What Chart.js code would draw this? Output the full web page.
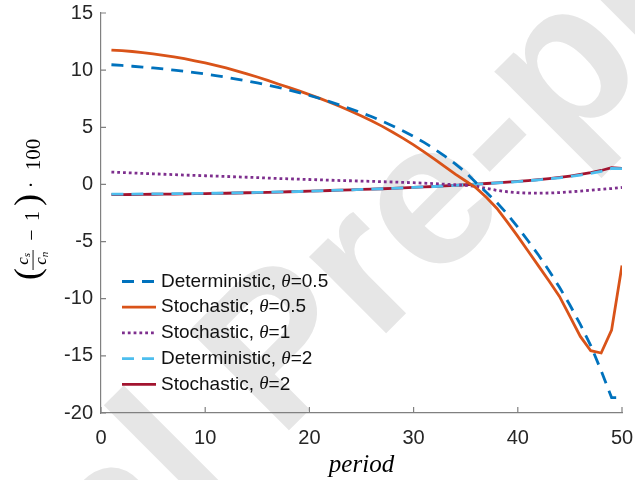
<!DOCTYPE html>
<html>
<head>
<meta charset="utf-8">
<script src="https://cdn.jsdelivr.net/npm/chart.js@4.4.1/dist/chart.umd.min.js"></script>
<style>
  html, body { margin: 0; padding: 0; background: #fff; }
  #wrap { width: 635px; height: 480px; }
</style>
</head>
<body>
<div id="wrap"><canvas id="ratioChart"></canvas></div>
<script>
// period axis
var periods = [1, 2, 3, 4, 5, 6, 7, 8, 9, 10,
  11, 12, 13, 14, 15, 16, 17, 18, 19, 20,
  21, 22, 23, 24, 25, 26, 27, 28, 29, 30,
  31, 32, 33, 34, 35, 36, 37, 38, 39, 40,
  41, 42, 43, 44, 45, 46, 47, 48, 49, 50];

var xTicks = [0, 10, 20, 30, 40, 50];
var yTicks = [-20, -15, -10, -5, 0, 5, 10, 15];

var seriesLabels = ['Deterministic, θ=0.5', 'Stochastic, θ=0.5', 'Stochastic, θ=1',
  'Deterministic, θ=2', 'Stochastic, θ=2'];

var detHalf = [10.47, 10.41, 10.34, 10.27, 10.19, 10.10, 10.00, 9.90, 9.78, 9.66,
  9.52, 9.38, 9.22, 9.06, 8.88, 8.69, 8.49, 8.27, 8.04, 7.79,
  7.52, 7.23, 6.92, 6.60, 6.27, 5.92, 5.53, 5.12, 4.68, 4.20,
  3.68, 3.10, 2.47, 1.80, 1.05, 0.15, -0.70, -1.60, -2.60, -3.75,
  -4.95, -6.20, -7.55, -9.00, -10.55, -12.25, -14.10, -16.30, -18.65, -18.65];

var stochHalf = [11.76, 11.70, 11.63, 11.54, 11.43, 11.30, 11.16, 11.00, 10.82, 10.63,
  10.42, 10.19, 9.94, 9.68, 9.40, 9.10, 8.79, 8.49, 8.18, 7.86,
  7.53, 7.17, 6.80, 6.41, 5.99, 5.55, 5.08, 4.57, 4.03, 3.46,
  2.85, 2.22, 1.55, 0.90, 0.30, -0.30, -1.15, -2.10, -3.30, -4.55,
  -5.85, -7.15, -8.45, -9.80, -11.55, -13.30, -14.55, -14.75, -12.75, -7.10];

var stochOne = [1.08, 1.04, 1.00, 0.96, 0.93, 0.89, 0.86, 0.82, 0.79, 0.76,
  0.73, 0.70, 0.66, 0.63, 0.60, 0.56, 0.52, 0.49, 0.46, 0.43,
  0.40, 0.37, 0.34, 0.32, 0.29, 0.27, 0.24, 0.21, 0.18, 0.15,
  0.11, 0.07, 0.02, -0.03, -0.08, -0.16, -0.35, -0.52, -0.64, -0.72,
  -0.76, -0.77, -0.75, -0.71, -0.65, -0.58, -0.51, -0.43, -0.36, -0.27];

var detTwo = [-0.85, -0.85, -0.84, -0.83, -0.83, -0.82, -0.81, -0.80, -0.79, -0.78,
  -0.77, -0.76, -0.74, -0.72, -0.70, -0.68, -0.66, -0.64, -0.62, -0.59,
  -0.56, -0.53, -0.50, -0.47, -0.44, -0.41, -0.38, -0.34, -0.30, -0.26,
  -0.22, -0.18, -0.13, -0.08, -0.03, 0.02, 0.07, 0.13, 0.19, 0.25,
  0.32, 0.40, 0.48, 0.58, 0.69, 0.82, 0.97, 1.15, 1.40, 1.38];

var stochTwo = [-0.90, -0.89, -0.88, -0.87, -0.86, -0.85, -0.84, -0.83, -0.81, -0.80,
  -0.78, -0.77, -0.75, -0.73, -0.71, -0.69, -0.67, -0.64, -0.62, -0.59,
  -0.56, -0.53, -0.50, -0.47, -0.44, -0.41, -0.38, -0.34, -0.30, -0.26,
  -0.22, -0.18, -0.13, -0.08, -0.03, 0.02, 0.08, 0.14, 0.20, 0.27,
  0.34, 0.42, 0.51, 0.61, 0.73, 0.87, 1.03, 1.22, 1.46, 1.40];

function pts(vals) {
  return periods.map(function (p, i) { return { x: p, y: vals[i] }; });
}

var axisGrey = '#808080';
var textDark = '#262626';

// faint diagonal watermark behind everything
var watermark = {
  id: 'watermark',
  beforeDraw: function (chart) {
    var ctx = chart.ctx;
    var size = 205;
    ctx.save();
    ctx.fillStyle = '#fff';
    ctx.fillRect(0, 0, chart.width, chart.height);
    ctx.font = 'bold ' + size + 'px "Liberation Sans"';
    var before = ctx.measureText('Journal Pre').width;
    var dash = ctx.measureText('-').width;
    ctx.translate(498, 143);
    ctx.rotate(-45 * Math.PI / 180);
    ctx.fillStyle = '#e6e6e6';
    ctx.fillText('Journal Pre-proof', -(before + dash / 2), 0.27 * size);
    ctx.restore();
  }
};

// inward tick marks like the original figure
var innerTicks = {
  id: 'innerTicks',
  afterDraw: function (chart) {
    var ctx = chart.ctx, xs = chart.scales.x, ys = chart.scales.y;
    ctx.save();
    ctx.strokeStyle = axisGrey;
    ctx.lineWidth = 1.2;
    ctx.beginPath();
    xTicks.forEach(function (t) {
      var px = xs.getPixelForValue(t);
      ctx.moveTo(px, ys.bottom);
      ctx.lineTo(px, ys.bottom - 6);
    });
    yTicks.forEach(function (t) {
      var py = ys.getPixelForValue(t);
      ctx.moveTo(xs.left, py);
      ctx.lineTo(xs.left + 5, py);
    });
    ctx.stroke();
    ctx.restore();
  }
};

// y label: (c_s / c_n - 1) . 100, drawn rotated
var yTitle = {
  id: 'yTitle',
  afterDraw: function (chart) {
    var ctx = chart.ctx;
    ctx.save();
    ctx.rotate(-Math.PI / 2);
    ctx.fillStyle = '#000';
    ctx.textAlign = 'center';
    ctx.textBaseline = 'middle';
    // local (a, b) -> screen (b, -a)
    function put(txt, sy, sx, font) { ctx.font = font; ctx.fillText(txt, -sy, sx); }
    var serif = '"Liberation Serif"';
    put('(', 274, 30, '36px ' + serif);
    put('c', 261, 24, 'italic 17px ' + serif);
    put('s', 255, 27, 'italic 11px ' + serif);
    put('c', 261, 42, 'italic 17px ' + serif);
    put('n', 254.5, 45, 'italic 11px ' + serif);
    ctx.fillRect(-270, 32.6, 20, 0.9);
    put('\u2212', 235, 33, '20px ' + serif);
    put('1', 216, 34, '20px ' + serif);
    put(')', 200, 30, '36px ' + serif);
    put('\u00b7', 185, 33, '20px ' + serif);
    put('100', 154.5, 34, '21px ' + serif);
    ctx.restore();
  }
};

// legend inside the lower-left of the axes
var innerLegend = {
  id: 'innerLegend',
  afterDatasetsDraw: function (chart) {
    var ctx = chart.ctx;
    ctx.save();
    chart.data.datasets.forEach(function (ds, i) {
      var y = 281.5 + i * 25.7;
      ctx.strokeStyle = ds.borderColor;
      ctx.lineWidth = ds.borderWidth;
      ctx.setLineDash(ds.borderDash || []);
      ctx.beginPath();
      ctx.moveTo(122, y);
      ctx.lineTo(156, y);
      ctx.stroke();
      ctx.setLineDash([]);
      var parts = ds.label.split('θ');
      var x = 161;
      ctx.fillStyle = '#111';
      ctx.textBaseline = 'middle';
      ctx.font = '19px "Liberation Sans"';
      ctx.fillText(parts[0], x, y);
      x += ctx.measureText(parts[0]).width;
      ctx.font = 'italic 19px "Liberation Serif"';
      ctx.fillText('θ', x, y);
      x += ctx.measureText('θ').width;
      ctx.font = '19px "Liberation Sans"';
      ctx.fillText(parts[1], x, y);
    });
    ctx.restore();
  }
};

var ctx = document.getElementById('ratioChart').getContext('2d');
var chart = new Chart(ctx, {
  type: 'line',
  data: {
    datasets: [{
      label: seriesLabels[0],
      data: pts(detHalf),
      borderColor: '#0072BD',
      borderWidth: 2.8,
      borderDash: [12, 8]
    }, {
      label: seriesLabels[1],
      data: pts(stochHalf),
      borderColor: '#D95319',
      borderWidth: 2.8
    }, {
      label: seriesLabels[2],
      data: pts(stochOne),
      borderColor: '#7E2F8E',
      borderWidth: 2.8,
      borderDash: [2.8, 3]
    }, {
      label: seriesLabels[3],
      data: pts(detTwo),
      borderColor: '#4DBEEE',
      borderWidth: 2.8,
      borderDash: [12, 8]
    }, {
      label: seriesLabels[4],
      data: pts(stochTwo),
      borderColor: '#A2142F',
      borderWidth: 2.8
    }]
  },
  options: {
    responsive: true,
    maintainAspectRatio: false,
    animation: false,
    layout: { padding: { top: 13, right: 13, left: 0, bottom: 0 } },
    elements: {
      point: { radius: 0 },
      line: { tension: 0, borderCapStyle: 'butt', fill: false }
    },
    plugins: {
      legend: { display: false },
      tooltip: { enabled: false }
    },
    scales: {
      x: {
        type: 'linear',
        min: 0,
        max: 50,
        afterBuildTicks: function (s) { s.ticks = xTicks.map(function (v) { return { value: v }; }); },
        afterFit: function (s) {
          s.height = 67;
          s.paddingLeft = 0; s.paddingRight = 0;
        },
        grid: { display: false, drawTicks: false },
        border: { display: true, color: axisGrey, width: 1.2 },
        ticks: {
          color: textDark,
          padding: 13,
          maxRotation: 0,
          font: { family: '"Liberation Sans"', size: 20 }
        },
        title: {
          display: true,
          text: 'period',
          color: '#000',
          padding: { top: 0, bottom: 0 },
          font: { family: '"Liberation Serif"', style: 'italic', size: 25 }
        }
      },
      y: {
        min: -20,
        max: 15,
        afterBuildTicks: function (s) { s.ticks = yTicks.map(function (v) { return { value: v }; }); },
        afterFit: function (s) {
          s.width = 101;
          s.paddingTop = 0; s.paddingBottom = 0;
        },
        grid: { display: false, drawTicks: false },
        border: { display: true, color: axisGrey, width: 1.2 },
        ticks: {
          color: textDark,
          padding: 8,
          font: { family: '"Liberation Sans"', size: 20 }
        }
      }
    }
  },
  plugins: [watermark, innerTicks, yTitle, innerLegend]
});
</script>
</body>
</html>
